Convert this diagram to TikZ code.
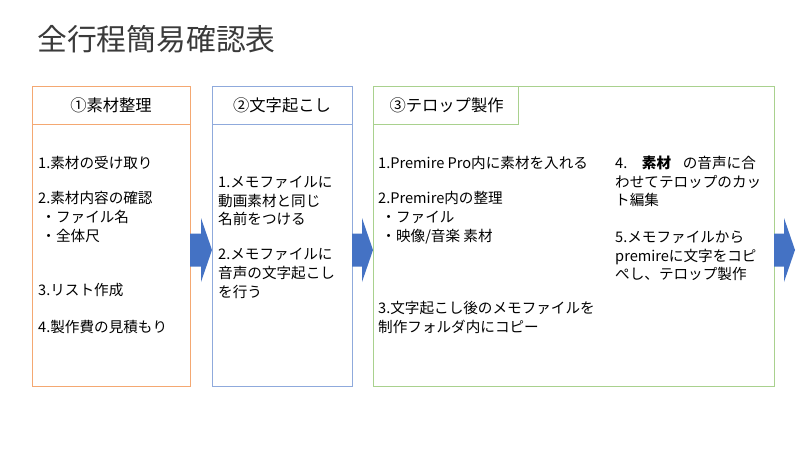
\documentclass[tikz,border=0pt]{standalone}
\usepackage{fontspec}
\setmainfont{Noto Sans CJK JP}
\newfontfamily\cjk{Noto Sans CJK JP}
\usetikzlibrary{positioning}
\definecolor{orangeB}{HTML}{F4A872}
\definecolor{blueB}{HTML}{8FAADC}
\definecolor{greenB}{HTML}{A9D18E}
\definecolor{arrowC}{HTML}{4472C4}
\definecolor{titleC}{HTML}{3A3A3A}
\tikzset{
  x=1pt, y=-1pt,
  frame/.style={draw, line width=1pt, inner sep=0pt},
  headtxt/.style={font=\cjk\fontsize{16.3}{16.3}\selectfont, anchor=center},
  bodytxt/.style={font=\cjk\fontsize{14.6}{14.6}\selectfont, anchor=base west, inner sep=0pt},
  blockarrow/.style={fill=arrowC, draw=none},
}
\newcommand{\blockarr}[3]{% start x, tip x, name prefix
  \coordinate (#3s) at (#1,250);
  \fill[blockarrow] (#3s) ++(0,-16.5) -- ++({#2-#1-11},0) -- ++(0,-15.5)
     -- (#2,250) -- ({#2-11},282) -- ++(0,-15.5) -- ++({-(#2-#1-11)},0) -- cycle;
}
\begin{document}
\begin{tikzpicture}
\useasboundingbox[fill=white] (0,0) rectangle (800,448);

\node[font=\cjk\fontsize{29.8}{29.8}\selectfont, text=titleC, anchor=west, inner sep=0pt] (title) at (37,39) {全行程簡易確認表};

% Box 1
\draw[frame, orangeB] (32,86) rectangle (190,386);
\draw[frame, orangeB] (32,124) -- (190,124);
\node[headtxt] (h1) at (111,105) {①素材整理};
\node[bodytxt] (a1) at (38,168) {1.素材の受け取り};
\node[bodytxt] (a2) at (38,203) {2.素材内容の確認};
\node[bodytxt] (a3) at (38,222) {\ ・ファイル名};
\node[bodytxt] (a4) at (38,241) {\ ・全体尺};
\node[bodytxt] (a5) at (38,295) {3.リスト作成};
\node[bodytxt] (a6) at (38,332) {4.製作費の見積もり};

% Box 2
\draw[frame, blueB] (212,86) rectangle (352,386);
\draw[frame, blueB] (212,124) -- (352,124);
\node[headtxt] (h2) at (282,105) {②文字起こし};
\node[bodytxt] (b1) at (218,187) {1.メモファイルに};
\node[bodytxt] (b2) at (218,206) {動画素材と同じ};
\node[bodytxt] (b3) at (218,224) {名前をつける};
\node[bodytxt] (b4) at (218,259) {2.メモファイルに};
\node[bodytxt] (b5) at (218,278) {音声の文字起こし};
\node[bodytxt] (b6) at (218,297) {を行う};

% Box 3
\draw[frame, greenB] (373,86) rectangle (774,386);
\draw[frame, greenB] (373,124) -- (518,124) -- (518,86);
\node[headtxt, anchor=west] (h3) at (386,105) {③テロップ製作};
\node[bodytxt] (c1) at (378,168) {1.Premire Pro内に素材を入れる};
\node[bodytxt] (c2) at (378,203) {2.Premire内の整理};
\node[bodytxt] (c3) at (378,222) {\ ・ファイル};
\node[bodytxt] (c4) at (378,241) {\ ・映像/音楽 素材};
\node[bodytxt] (c5) at (378,313) {3.文字起こし後のメモファイルを};
\node[bodytxt] (c6) at (378,332) {制作フォルダ内にコピー};
\node[bodytxt] (d1) at (615,168) {4.\hspace{1em}{\bfseries 素材}\hspace{0.8em}の音声に合};
\node[bodytxt] (d2) at (615,187) {わせてテロップのカッ};
\node[bodytxt] (d3) at (615,205) {ト編集};
\node[bodytxt] (d4) at (615,242) {5.メモファイルから};
\node[bodytxt] (d5) at (615,261) {premireに文字をコピ};
\node[bodytxt] (d6) at (615,279) {ぺし、テロップ製作};

% Arrows
\blockarr{190}{212}{ar1}
\blockarr{352}{373}{ar2}
\blockarr{774}{795}{ar3}
\end{tikzpicture}
\end{document}
